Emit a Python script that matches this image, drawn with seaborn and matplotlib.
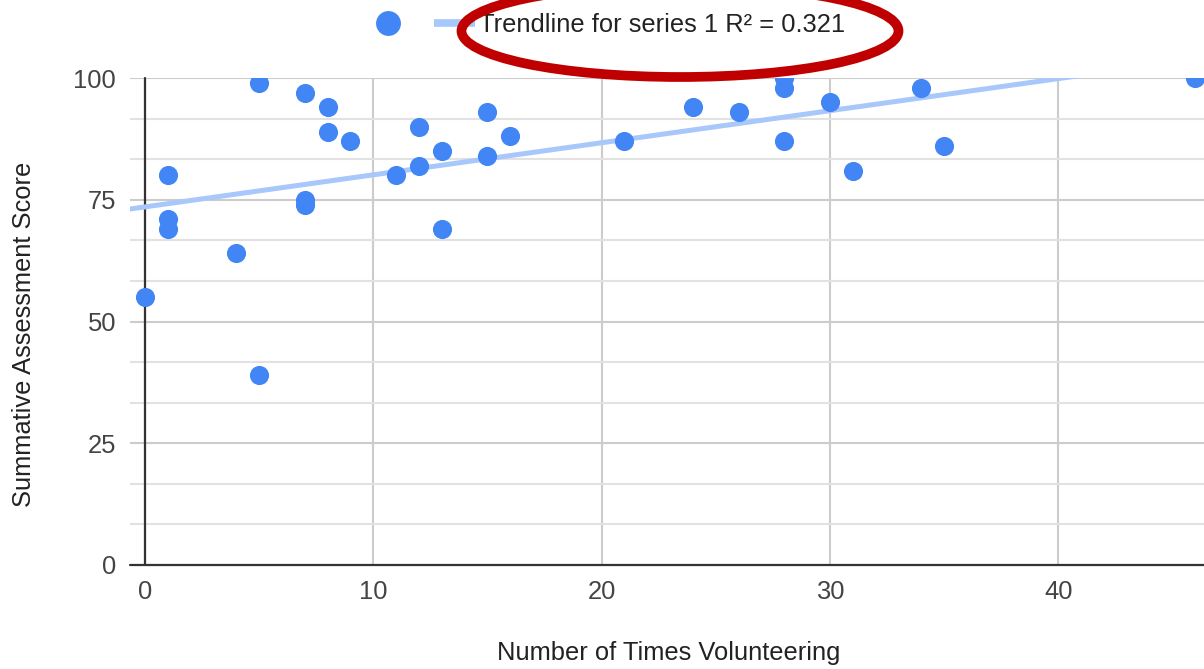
import numpy as np
import pandas as pd
import matplotlib
matplotlib.use("Agg")
import matplotlib.pyplot as plt
import seaborn as sns
from matplotlib.patches import Ellipse
from matplotlib.lines import Line2D
from matplotlib.ticker import MultipleLocator, FixedLocator

# ---- data ----
volunteering = [0, 1, 1, 1, 4, 5, 5, 7, 7, 7, 8, 8, 9, 11, 12, 12, 13, 13, 15, 15,
                16, 21, 24, 26, 28, 28, 28, 30, 31, 34, 35, 46]
scores = [55, 80, 71, 69, 64, 99, 39, 97, 75, 74, 94, 89, 87, 80, 90, 82, 85, 69, 93, 84,
          88, 87, 94, 93, 100, 98, 87, 95, 81, 98, 86, 100]
x_ticks = [0, 10, 20, 30, 40]
y_ticks = [0, 25, 50, 75, 100]
x_label = "Number of Times Volunteering"
y_label = "Summative Assessment Score"
trend_label = "Trendline for series 1 R\u00b2 = 0.321"

point_color = "#4285F4"
trend_color = "#A8C7FA"
FS = 18.4

sns.set_theme(style="white")
plt.rcParams['font.family'] = ['Liberation Sans', 'DejaVu Sans']

W, H = 1204, 669
fig = plt.figure(figsize=(W / 100, H / 100), dpi=100)
ax = fig.add_axes([130 / W, 1 - 565 / H, 1 - 130 / W, 487 / H])

ax.set_xlim(-0.657, 46.38)
ax.set_ylim(0, 100)

df = pd.DataFrame({"x": volunteering, "y": scores})
sns.regplot(data=df, x="x", y="y", ax=ax, ci=None, truncate=False,
            color=point_color,
            scatter_kws=dict(s=190, color=point_color, linewidths=0, alpha=1, zorder=4),
            line_kws=dict(color=trend_color, lw=3.6, zorder=3))

# grid
ax.set_axisbelow(True)
ax.xaxis.set_major_locator(FixedLocator(x_ticks))
ax.yaxis.set_major_locator(FixedLocator(y_ticks))
ax.yaxis.set_minor_locator(MultipleLocator(25 / 3))
ax.grid(which='major', color='#cccccc', lw=1.5)
ax.grid(which='minor', axis='y', color='#e2e2e2', lw=1.5)
ax.grid(which='minor', axis='x', visible=False)
for s in ax.spines.values():
    s.set_visible(False)
ax.axvline(0, color='#333333', lw=1.6, zorder=2.5, clip_on=False)
ax.axhline(0, color='#333333', lw=1.6, zorder=2.5, clip_on=False)

ax.tick_params(axis='both', which='both', length=0, labelsize=FS, labelcolor='#444444')
ax.tick_params(axis='y', pad=10)
ax.tick_params(axis='x', pad=11)

ax.set_xlabel(x_label, fontsize=FS, color='#222222')
ax.set_ylabel(y_label, fontsize=FS, color='#222222')
ax.xaxis.set_label_coords(0.502, -0.156)
ax.yaxis.set_label_coords(-0.0875, 0.473)

# legend
sc = ax.collections[0]
line_handle = Line2D([], [], color=trend_color, lw=5.5, solid_capstyle='butt')
leg = fig.legend([sc, line_handle], ["", trend_label], loc='center left',
                 bbox_to_anchor=(368 / W, 1 - 25 / H), bbox_transform=fig.transFigure,
                 ncol=2, frameon=False, fontsize=FS, handlelength=1.57,
                 handletextpad=0.17, columnspacing=0.86, borderpad=0,
                 borderaxespad=0, markerscale=1.3, scatteryoffsets=[0.5])
for t in leg.get_texts():
    t.set_color('#222222')

# red annotation ellipse
ell = Ellipse((680 / W, 1 - 31 / H), 437 / W, 92 / H, transform=fig.transFigure,
              fill=False, edgecolor='#C00000', lw=7, zorder=10)
fig.add_artist(ell)

fig.savefig("out.png", dpi=100)
